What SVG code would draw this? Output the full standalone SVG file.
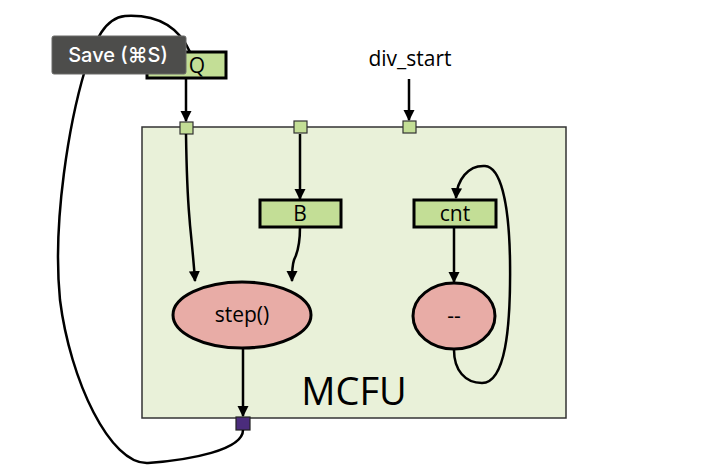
<svg xmlns="http://www.w3.org/2000/svg" width="702" height="472" viewBox="0 0 702 472">
<defs>
<marker id="ah" markerWidth="11" markerHeight="13" refX="9" refY="5" orient="auto" markerUnits="userSpaceOnUse" viewBox="0 0 10 10">
<path d="M0,0 L10,5 L0,10 Z" fill="#000"/>
</marker>
</defs>
<style>
.reg{fill:#c3de96;stroke:#000;stroke-width:3}
.port{fill:#c3de96;stroke:#333;stroke-width:1.2}
.op{fill:#e8aca6;stroke:#000;stroke-width:3}
.t{font-family:"Open Sans","Noto Sans",sans-serif;fill:#000}
.c{fill:none;stroke:#000;stroke-width:2.5}
</style>
<rect width="702" height="472" fill="#fff"/>
<g id="mcfu">
<rect x="142" y="127" width="424" height="291" fill="#e9f1d9" stroke="#333" stroke-width="1.5"/>
<text class="t" x="354" y="405" font-size="38" text-anchor="middle">MCFU</text>
</g>
<g id="Q"><rect class="reg" x="147" y="52" width="79" height="26"/><text class="t" x="197" y="73" font-size="21" text-anchor="middle">Q</text></g>
<g id="div_start"><text class="t" x="410" y="66" font-size="21" text-anchor="middle">div_start</text></g>
<g id="port1"><rect class="port" x="180" y="122" width="13" height="12"/></g>
<g id="port2"><rect class="port" x="294" y="121" width="13" height="12"/></g>
<g id="port3"><rect class="port" x="403" y="121" width="13" height="12"/></g>
<g id="port_out"><rect x="236" y="417" width="14" height="13" fill="#4b2c7c" stroke="#222" stroke-width="1.2"/></g>
<g id="B"><rect class="reg" x="260" y="200" width="81" height="27"/><text class="t" x="300" y="221" font-size="21" text-anchor="middle">B</text></g>
<g id="cnt"><rect class="reg" x="414" y="200" width="82" height="27"/><text class="t" x="455" y="221" font-size="21" text-anchor="middle">cnt</text></g>
<g id="step"><ellipse class="op" cx="242" cy="315" rx="69" ry="33"/><text class="t" x="242" y="322" font-size="21" text-anchor="middle">step()</text></g>
<g id="dec"><ellipse class="op" cx="454" cy="316" rx="41" ry="33"/><text class="t" x="454" y="323" font-size="21" text-anchor="middle">--</text></g>
<g id="connectors">
<path class="c" d="M186,78 L186,121" marker-end="url(#ah)"/>
<path class="c" d="M409,79 L409,120" marker-end="url(#ah)"/>
<path class="c" d="M186,134 C187,200 189,210 190,225 C192,245 194,265 195,281" marker-end="url(#ah)"/>
<path class="c" d="M300,134 L300,199" marker-end="url(#ah)"/>
<path class="c" d="M300,227 C300,250 296,255 294,260 C292,266 292,275 292,281" marker-end="url(#ah)"/>
<path class="c" d="M454,227 L454,282" marker-end="url(#ah)"/>
<path class="c" d="M454,350 C454,370 465,383 482,383 C505,383 511,330 510,260 C509,200 500,167 485,166 C468,165 457,180 456,198" marker-end="url(#ah)"/>
<path class="c" d="M243,348 L243,416" marker-end="url(#ah)"/>
<path class="c" d="M243,430 C243,450 190,460 148,463 C110,465 70,380 60,300 C52,220 70,120 85,70 C95,40 105,18 125,16 C160,14 180,30 190,52"/>
</g>
<g id="tooltip">
<rect x="52" y="36" width="134" height="38" rx="2" fill="#4d4d4b" stroke="#6a6a68" stroke-width="1"/>
<text x="118" y="62" font-family="Inter,'Open Sans',sans-serif" font-size="20" font-weight="500" fill="#fff" text-anchor="middle">Save (⌘S)</text>
</g>
</svg>
